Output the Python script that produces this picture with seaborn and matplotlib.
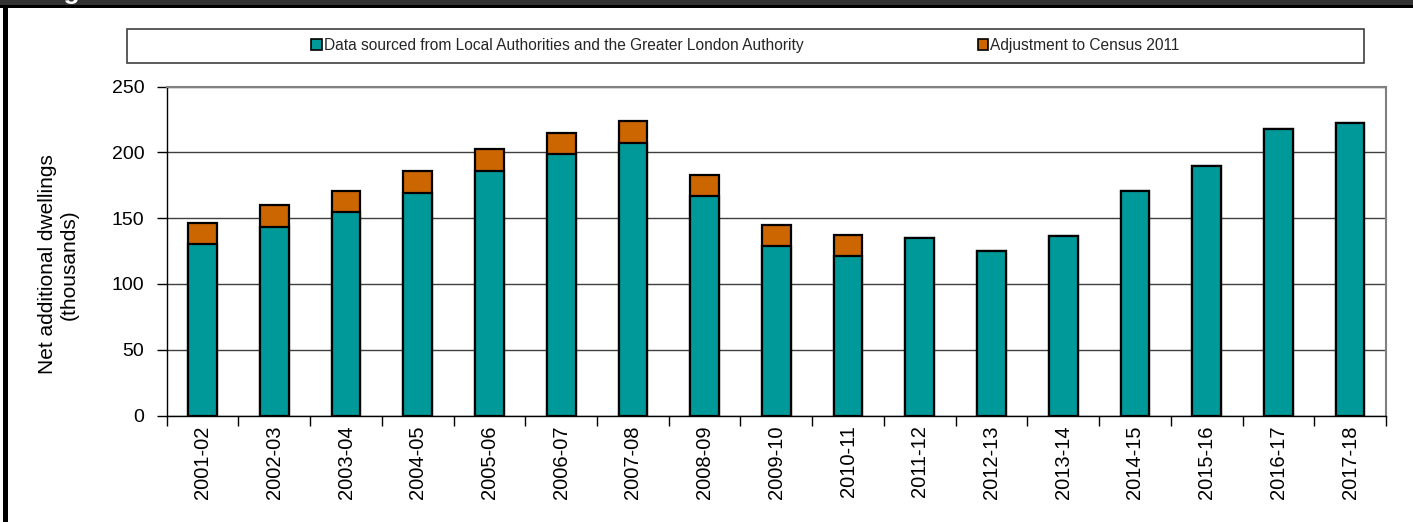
import matplotlib
matplotlib.use("Agg")
import matplotlib.pyplot as plt
from matplotlib.patches import Patch, Rectangle
import numpy as np
import pandas as pd
import seaborn as sns

# Financial years
years = ["2001-02", "2002-03", "2003-04", "2004-05", "2005-06", "2006-07",
         "2007-08", "2008-09", "2009-10", "2010-11", "2011-12", "2012-13",
         "2013-14", "2014-15", "2015-16", "2016-17", "2017-18"]

# Net additional dwellings (thousands) from Local Authorities and the GLA
la_gla = [130.6, 143.3, 154.7, 168.7, 185.6, 198.7, 207.4, 166.6, 128.7,
          121.2, 134.9, 124.7, 136.6, 170.7, 189.7, 217.4, 222.2]

# Adjustment to Census 2011 (thousands)
census_adj = [15.4, 16.6, 15.9, 16.9, 16.9, 16.3, 16.1, 16.2, 16.2,
              16.2, 0, 0, 0, 0, 0, 0, 0]

label_la = "Data sourced from Local Authorities and the Greater London Authority"
label_adj = "Adjustment to Census 2011"
y_label = "Net additional dwellings\n(thousands)"

TEAL = "#009999"
ORANGE = "#CC6600"

df = pd.DataFrame({"year": years, "la": la_gla, "adj": census_adj})
df["total"] = df["la"] + df["adj"]

sns.set_theme(style="white")
plt.rcParams["font.family"] = ["Liberation Sans", "DejaVu Sans"]

W, H = 1413, 522
fig = plt.figure(figsize=(W / 100, H / 100), dpi=100)
fig.patch.set_facecolor("white")


def fx(px):
    return px / W


def fy(py):
    return 1 - py / H


ax = fig.add_axes([fx(166.7), fy(415.5), fx(1386) - fx(166.7), fy(86.5) - fy(415.5)])
ax.set_facecolor("white")

# stacked bars: full height in orange, LA/GLA portion in teal over it
sns.barplot(data=df, x="year", y="total", color=ORANGE, saturation=1,
            width=0.4, edgecolor="black", linewidth=1.6, ax=ax, zorder=3)
sns.barplot(data=df, x="year", y="la", color=TEAL, saturation=1,
            width=0.4, edgecolor="black", linewidth=1.6, ax=ax, zorder=4)

ax.set_xlim(-0.5, len(years) - 0.5)
ax.set_ylim(0, 250)
ax.set_yticks(np.arange(0, 251, 50))
ax.set_xlabel("")
ax.set_ylabel("")

ax.yaxis.grid(True, color="#404040", linewidth=1)
ax.xaxis.grid(False)
ax.set_axisbelow(True)

ax.set_xticks(range(len(years)))
ax.set_xticklabels(years, rotation=90, fontsize=14.5, color="black")
ax.set_xticks(np.arange(-0.5, len(years), 1), minor=True)
ax.tick_params(axis="x", which="major", length=0, pad=7)
ax.tick_params(axis="x", which="minor", length=7, width=1, color="black",
               direction="out", bottom=True)
ax.tick_params(axis="y", length=7, width=1, color="black", direction="out",
               left=True, labelsize=14, labelcolor="black", pad=9)

for side in ("left", "bottom"):
    ax.spines[side].set_color("black")
    ax.spines[side].set_linewidth(1)
for side in ("top", "right"):
    ax.spines[side].set_color("#808080")
    ax.spines[side].set_linewidth(1.5)

fig.text(fx(58.5), fy(264.5), y_label, rotation=90, ha="center", va="center",
         multialignment="center", fontsize=15, color="black", linespacing=1.15)

# legend frame and entries
fig.add_artist(Rectangle((fx(126.7), fy(62.5)), fx(1364) - fx(126.7),
                         fy(29) - fy(62.5), transform=fig.transFigure,
                         fill=False, edgecolor="#404040", linewidth=1.2))
handles = [Patch(facecolor=TEAL, edgecolor="black", linewidth=1.2),
           Patch(facecolor=ORANGE, edgecolor="black", linewidth=1.2)]
fig.legend(handles, [label_la, label_adj], loc="center",
           bbox_to_anchor=(fx(745.5), fy(45.5)), ncol=2, frameon=False,
           fontsize=11.2, handlelength=0.65, handleheight=0.65,
           handletextpad=0.15, columnspacing=11.2, borderpad=0)

# page header band and left rule
fig.add_artist(Rectangle((0, fy(5)), 1, fy(0) - fy(5), transform=fig.transFigure,
                         facecolor="#333333", edgecolor="none"))
fig.add_artist(Rectangle((0, fy(7.5)), 1, fy(5) - fy(7.5), transform=fig.transFigure,
                         facecolor="black", edgecolor="none"))
fig.add_artist(Rectangle((fx(3), 0), fx(5), fy(5) - 0, transform=fig.transFigure,
                         facecolor="black", edgecolor="none"))
fig.text(fx(40), fy(-0.5), "Figure 1", color="white", fontsize=19,
         fontweight="bold", ha="left", va="baseline")

fig.savefig("out.png", dpi=100, facecolor="white")
